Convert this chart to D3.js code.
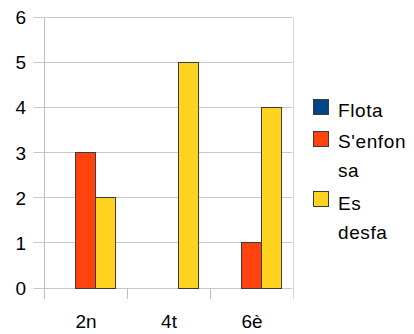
<!DOCTYPE html>
<html>
<head>
<meta charset="utf-8">
<script src="https://cdn.jsdelivr.net/npm/d3@7"></script>
<style>
  html, body { margin: 0; padding: 0; background: #fff; }
  svg { display: block; font-family: "Liberation Sans", Arial, sans-serif; }
</style>
</head>
<body>
<svg id="chart" width="414" height="334"></svg>
<script>
const categories = ["2n", "4t", "6è"];
const seriesNames = ["Flota", "S'enfonsa", "Es desfa"];
const flota = [0, 0, 0];
const senfonsa = [3, 0, 1];
const esdesfa = [2, 5, 4];
const yTicks = [0, 1, 2, 3, 4, 5, 6];
const legendLines = [["Flota"], ["S'enfon", "sa"], ["Es", "desfa"]];
const colors = ["#004586", "#ff420e", "#ffd320"];

const seriesValues = [flota, senfonsa, esdesfa];

const svg = d3.select("#chart");
const plotLeft = 43.5, plotRight = 292.5, plotTop = 16.5, plotBottom = 287.5;

const x = d3.scaleBand().domain(categories).range([plotLeft, plotRight]).padding(0);
const xs = d3.scaleBand().domain(d3.range(seriesNames.length))
  .range([0, x.bandwidth()]).paddingInner(0).paddingOuter(0.52);
const y = d3.scaleLinear().domain([0, 6]).range([plotBottom, plotTop]);

// gridlines
svg.append("g").selectAll("line").data(yTicks).join("line")
  .attr("x1", plotLeft - 10).attr("x2", plotRight)
  .attr("y1", d => Math.round(y(d)) + 0.5).attr("y2", d => Math.round(y(d)) + 0.5)
  .attr("stroke", "#c8c8c8").attr("stroke-width", 1);

// right border
svg.append("line")
  .attr("x1", Math.round(plotRight) + 0.5).attr("x2", Math.round(plotRight) + 0.5)
  .attr("y1", Math.round(y(6)) + 0.5).attr("y2", Math.round(plotBottom) + 11)
  .attr("stroke", "#d6d6d6");

// left axis line
svg.append("line")
  .attr("x1", Math.round(plotLeft) + 0.5).attr("x2", Math.round(plotLeft) + 0.5)
  .attr("y1", Math.round(y(6)) + 0.5).attr("y2", Math.round(plotBottom) + 11)
  .attr("stroke", "#c0c0c0");

// category tick marks
const bounds = categories.map(c => x(c)).concat([plotRight]);
svg.append("g").selectAll("line").data(bounds.slice(1, -1)).join("line")
  .attr("x1", d => Math.round(d) + 0.5).attr("x2", d => Math.round(d) + 0.5)
  .attr("y1", Math.round(plotBottom)).attr("y2", Math.round(plotBottom) + 11)
  .attr("stroke", "#c0c0c0");

// y tick labels
svg.append("g").selectAll("text").data(yTicks).join("text")
  .attr("x", 26).attr("y", d => y(d)).attr("dy", "0.4em")
  .attr("text-anchor", "end").attr("font-size", 19).attr("fill", "#000")
  .text(d => d);

// x labels
svg.append("g").selectAll("text").data(categories).join("text")
  .attr("x", d => x(d) + x.bandwidth() / 2 + 1).attr("y", 328)
  .attr("text-anchor", "middle").attr("font-size", 19).attr("fill", "#000")
  .text(d => d);

// bars
const barData = [];
seriesValues.forEach((vals, si) => {
  vals.forEach((v, ci) => {
    if (v > 0) barData.push({ si, c: categories[ci], v });
  });
});
svg.append("g").selectAll("rect").data(barData).join("rect")
  .attr("x", d => Math.round(x(d.c) + xs(d.si)) + 0.5)
  .attr("y", d => Math.round(y(d.v)) + 0.5)
  .attr("width", xs.bandwidth() - 0.5)
  .attr("height", d => Math.round(y(0)) - Math.round(y(d.v)))
  .attr("fill", d => colors[d.si])
  .attr("stroke", "#3a3a3a").attr("stroke-width", 1);

// legend
const legendTop = [99, 131, 191];
const legendBase = [117.3, 148.3, 210];
const lg = svg.append("g");
seriesNames.forEach((name, i) => {
  lg.append("rect")
    .attr("x", 313.5).attr("y", legendTop[i] + 0.5)
    .attr("width", 15).attr("height", 15)
    .attr("fill", colors[i]).attr("stroke", "#3a3a3a");
  const t = lg.append("text").attr("font-size", 19).attr("fill", "#000")
    .attr("letter-spacing", 0.6);
  legendLines[i].forEach((ln, j) => {
    t.append("tspan").attr("x", 338).attr("y", legendBase[i] + j * 29).text(ln);
  });
});
</script>
</body>
</html>
